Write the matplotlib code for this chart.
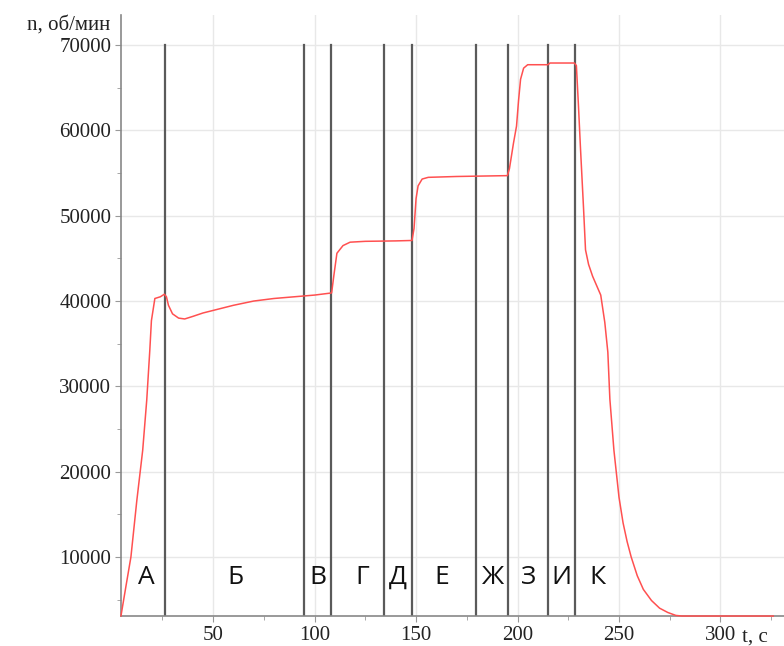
import numpy as np
import matplotlib
matplotlib.use("Agg")
import matplotlib.pyplot as plt
from matplotlib.ticker import MultipleLocator

# speed curve
t = [4.6, 7, 9.5, 12.4, 15.3, 17.3, 18.8, 19.6, 21.3, 24, 26, 27, 28, 30, 33,
     36, 40, 45, 50, 60, 70, 80, 90, 100, 108.4, 109.5, 111, 114, 117.5, 125,
     140, 148, 149, 150, 151, 153, 156, 170, 195, 196, 198, 199.5, 200.5,
     201.5, 203, 205, 215, 216, 228, 229, 230, 231, 232.5, 233.5, 235, 237,
     239, 241, 243, 244.5, 245.5, 247.5, 250, 252, 254, 256, 259, 262, 266,
     270, 274, 278, 281, 326]
n = [3100, 6500, 10000, 16600, 22500, 28400, 34200, 37700, 40300, 40500,
     40800, 40500, 39500, 38500, 38000, 37900, 38200, 38600, 38900, 39500,
     40000, 40300, 40500, 40700, 40950, 43000, 45600, 46500, 46900, 47000,
     47050, 47100, 48500, 52000, 53500, 54300, 54500, 54600, 54700, 55500,
     58500, 60500, 63500, 66000, 67300, 67700, 67700, 67900, 67900, 67600,
     63000, 58000, 51000, 46000, 44300, 42900, 41800, 40700, 37500, 34000,
     28500, 22500, 17000, 14000, 11800, 10000, 7800, 6200, 4900, 4000, 3500,
     3150, 3080, 3080]

# stage boundaries and labels
bounds = [26.3, 95, 108.3, 134, 148, 179.7, 195.3, 215, 228.5]
stage_names = ["А", "Б", "В", "Г", "Д", "Е", "Ж", "З", "И", "К"]
stage_x = [17, 61, 101.5, 123.5, 141, 162.5, 188, 205.5, 221.5, 239.5]

fig = plt.figure(figsize=(7.84, 6.46), dpi=100)
ax = fig.add_axes([0.1543, 0.0464, 0.8457, 0.9304])

ax.set_xlim(4.6, 331.3)
ax.set_ylim(3080, 73530)

ax.grid(True, which="major", color="#e8e8e8", linewidth=1)
ax.set_axisbelow(True)

for b in bounds:
    ax.plot([b, b], [3080, 70000], color="#5a5a5a", linewidth=1.6, zorder=2)

ax.plot(t, n, color="#ff5050", linewidth=1.1, zorder=3, clip_on=False)

for name, x in zip(stage_names, stage_x):
    ax.text(x, 7600, name, fontsize=19, family="Open Sans", color="#111111",
            ha="center", va="center")

ax.xaxis.set_major_locator(MultipleLocator(50))
ax.xaxis.set_minor_locator(MultipleLocator(25))
ax.yaxis.set_major_locator(MultipleLocator(10000))
ax.yaxis.set_minor_locator(MultipleLocator(5000))
ax.set_xticks([50, 100, 150, 200, 250, 300])
ax.set_yticks([10000, 20000, 30000, 40000, 50000, 60000, 70000])

for lab in ax.get_xticklabels() + ax.get_yticklabels():
    lab.set_family("Liberation Serif")
    lab.set_fontsize(15)
    lab.set_color("#222222")
ax.tick_params(which="major", length=4, color="#999999", pad=3)
ax.tick_params(which="minor", length=3, color="#999999")

for s in ["top", "right"]:
    ax.spines[s].set_visible(False)
for s in ["left", "bottom"]:
    ax.spines[s].set_color("#888888")
    ax.spines[s].set_linewidth(1.2)

fig.text(0.141, 0.962, "n, об/мин", family="Liberation Serif", fontsize=15,
         ha="right", va="center", color="#222222")
fig.text(0.946, 0.014, "t, c", family="Liberation Serif", fontsize=15,
         ha="left", va="center", color="#222222")

fig.savefig("out.png", dpi=100)
